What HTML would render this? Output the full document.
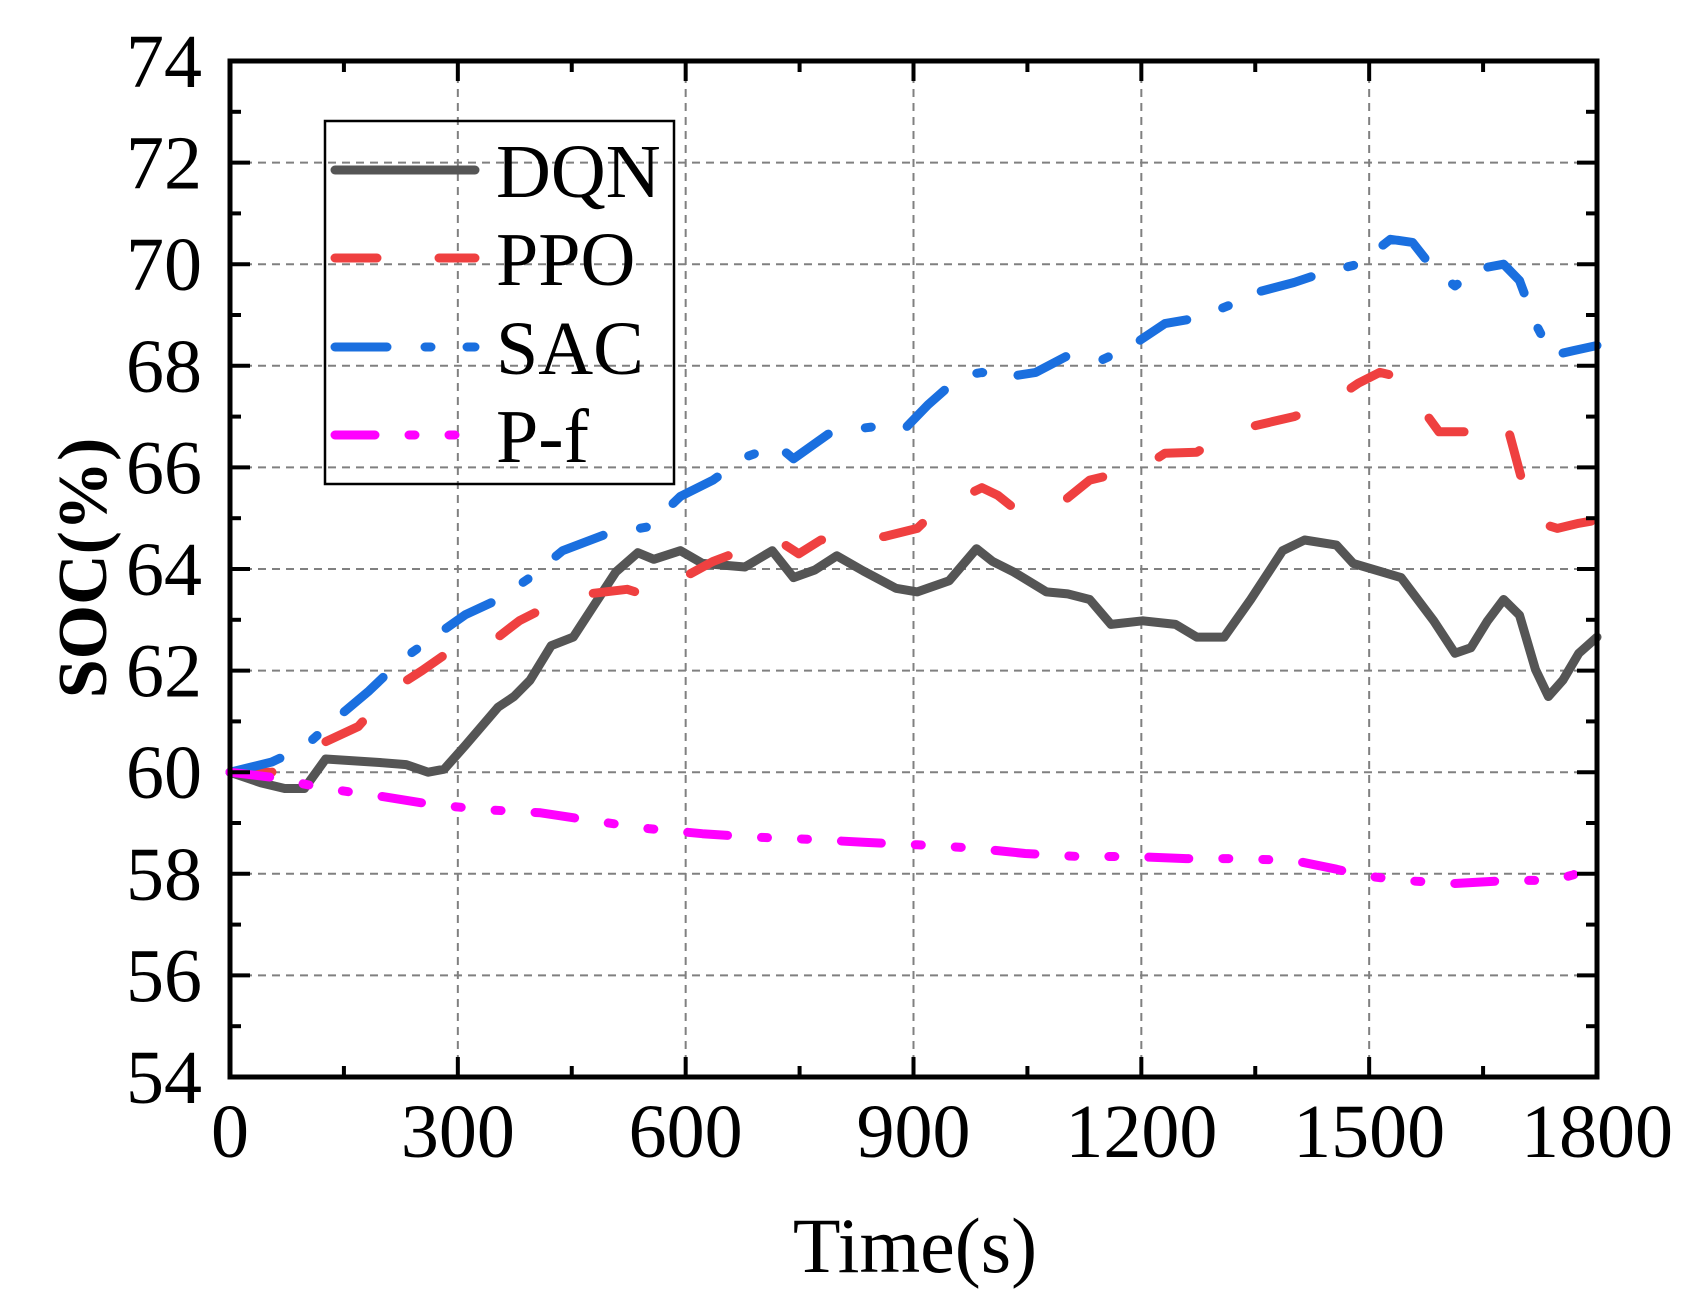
<!DOCTYPE html>
<html><head><meta charset="utf-8"><style>
html,body{margin:0;padding:0;background:#fff;}
svg{display:block;font-family:"Liberation Serif",serif;}
</style></head><body>
<svg id="chart" width="1691" height="1303" viewBox="0 0 1691 1303" xmlns="http://www.w3.org/2000/svg">
<g id="grid"></g>
<g id="series"></g>
<g id="axes"></g>
<g id="legend"></g>
</svg>
<script>
const xTicks = [0,300,600,900,1200,1500,1800];
const yTicks = [54,56,58,60,62,64,66,68,70,72,74];
const dqnT = [0,41,72,98,126,197,232,261,282,310,353,374,395,423,452,480,508,537,558,593,622,678,714,742,770,799,834,877,905,947,983,1004,1032,1075,1103,1132,1160,1202,1245,1273,1309,1344,1386,1415,1457,1479,1542,1585,1613,1634,1656,1677,1698,1719,1736,1755,1776,1800];
const dqnV = [60,59.79,59.68,59.68,60.26,60.19,60.15,60.0,60.06,60.53,61.28,61.49,61.81,62.49,62.66,63.3,63.94,64.32,64.19,64.36,64.11,64.04,64.36,63.83,63.98,64.26,63.96,63.62,63.55,63.77,64.4,64.15,63.94,63.55,63.51,63.4,62.91,62.98,62.91,62.66,62.66,63.4,64.36,64.57,64.47,64.11,63.83,62.98,62.34,62.45,62.98,63.4,63.09,62.02,61.49,61.81,62.34,62.66];
const ppoT = [0,55,126,169,211,253,296,324,353,381,423,466,523,551,565,593,636,693,721,749,778,820,862,905,933,962,990,1011,1032,1061,1082,1103,1132,1160,1188,1231,1273,1316,1358,1401,1443,1486,1514,1542,1571,1592,1627,1641,1663,1684,1705,1726,1748,1776,1800];
const ppoV = [60,60,60.6,60.9,61.6,62.0,62.45,62.55,62.66,62.98,63.3,63.5,63.6,63.47,63.55,63.8,64.15,64.47,64.57,64.3,64.57,64.6,64.64,64.8,65.2,65.4,65.6,65.45,65.2,65.3,65.2,65.4,65.75,65.85,65.85,66.28,66.3,66.7,66.85,67.0,67.23,67.66,67.87,67.77,67.13,66.7,66.7,67.0,67.0,66.7,65.53,64.9,64.8,64.9,64.96];
const sacT = [0,55,98,140,183,225,268,310,353,395,438,494,551,593,636,678,721,742,792,848,891,919,962,990,1018,1061,1103,1146,1188,1231,1273,1316,1358,1401,1443,1486,1528,1557,1585,1613,1641,1677,1698,1719,1741,1769,1800];
const sacV = [60,60.2,60.5,61.06,61.6,62.2,62.66,63.1,63.4,63.83,64.36,64.68,64.83,65.43,65.75,66.2,66.43,66.17,66.7,66.8,66.8,67.23,67.8,67.87,67.77,67.87,68.2,68.1,68.4,68.83,68.94,69.19,69.47,69.64,69.85,70.0,70.49,70.43,69.9,69.57,69.9,70.0,69.68,68.83,68.2,68.3,68.4];
const pfT = [0,55,126,197,268,339,409,480,551,622,693,764,834,905,976,1047,1117,1188,1259,1330,1401,1457,1486,1542,1613,1684,1741,1769,1800];
const pfV = [60,59.9,59.68,59.53,59.36,59.26,59.2,59.04,58.89,58.79,58.72,58.68,58.62,58.57,58.51,58.4,58.34,58.34,58.3,58.3,58.26,58.09,57.98,57.87,57.81,57.87,57.87,57.98,58.3];

const L=230,R=1597,T=61,B=1077;
const xMin=0,xMax=1800,yMin=54,yMax=74;
const sx=v=>L+(v-xMin)/(xMax-xMin)*(R-L);
const sy=v=>B-(v-yMin)/(yMax-yMin)*(B-T);
const NS="http://www.w3.org/2000/svg";
function mk(tag,attrs,parent){const e=document.createElementNS(NS,tag);for(const k in attrs)e.setAttribute(k,attrs[k]);parent.appendChild(e);return e;}
const grid=document.getElementById('grid'),series=document.getElementById('series'),axes=document.getElementById('axes'),legend=document.getElementById('legend');

xTicks.forEach((t,i)=>{
  if(i>0&&i<xTicks.length-1){const g=mk('line',{x1:sx(t),x2:sx(t),y1:T,y2:B,stroke:'#808080','stroke-width':2,'stroke-dasharray':'8 6'},grid);
  
  }
  const lb=mk('text',{x:sx(t),y:1157,'font-size':76,'text-anchor':'middle',fill:'#000'},axes);lb.textContent=t;
  
  
  [B,T].forEach(y0=>{mk('line',{x1:sx(t),x2:sx(t),y1:y0,y2:y0===B?B-20:T+20,stroke:'#000','stroke-width':4},axes);});
  if(i<xTicks.length-1){const m=t+150;[B,T].forEach(y0=>{mk('line',{x1:sx(m),x2:sx(m),y1:y0,y2:y0===B?B-11:T+11,stroke:'#000','stroke-width':4},axes);});}
});
yTicks.forEach((v,i)=>{
  if(i>0&&i<yTicks.length-1){const g=mk('line',{x1:L,x2:R,y1:sy(v),y2:sy(v),stroke:'#808080','stroke-width':2,'stroke-dasharray':'8 6'},grid);
  
  }
  const lb=mk('text',{x:202,y:sy(v)+26,'font-size':76,'text-anchor':'end',fill:'#000'},axes);lb.textContent=v;
  
  
  [L,R].forEach(x0=>{mk('line',{x1:x0,x2:x0===L?L+20:R-20,y1:sy(v),y2:sy(v),stroke:'#000','stroke-width':4},axes);});
  if(i<yTicks.length-1){const m=v+1;[L,R].forEach(x0=>{mk('line',{x1:x0,x2:x0===L?L+11:R-11,y1:sy(m),y2:sy(m),stroke:'#000','stroke-width':4},axes);});}
});
const frame=mk('rect',{x:L,y:T,width:R-L,height:B-T,fill:'none',stroke:'#000','stroke-width':5},axes);


const xt=mk('text',{x:915,y:1272,'font-size':78,'text-anchor':'middle',fill:'#000'},axes);xt.textContent='Time(s)';


const yt=mk('text',{x:0,y:0,'font-size':70,'font-weight':'bold','text-anchor':'middle',fill:'#000',transform:'translate(106,568) rotate(-90)'},axes);yt.textContent='SOC(%)';



const defs=[
 {name:'DQN',t:dqnT,v:dqnV,c:'#555555',d:'none'},
 {name:'PPO',t:ppoT,v:ppoV,c:'#ef4040',d:'42 62'},
 {name:'SAC',t:sacT,v:sacV,c:'#1a6fdf',d:'52 38 6 36'},
 {name:'P-f',t:pfT,v:pfV,c:'#ff00ff',d:'40 34 6 34 6 34'}
];
defs.forEach((s,i)=>{
  const pts=s.t.map((t,j)=>sx(t).toFixed(1)+','+sy(s.v[j]).toFixed(1)).join(' ');
  const p=mk('polyline',{points:pts,fill:'none',stroke:s.c,'stroke-width':9,'stroke-linecap':'round','stroke-linejoin':'round'},series);
  if(s.d!=='none')p.setAttribute('stroke-dasharray',s.d);
  
  
  const ly=[170,258,347,435][i];
  const g=mk('g',{},legend);
  
  
  const ln=mk('line',{x1:335,x2:475,y1:ly,y2:ly,stroke:s.c,'stroke-width':9,'stroke-linecap':'round'},g);
  if(s.d!=='none')ln.setAttribute('stroke-dasharray',s.d);
  const tx=mk('text',{x:496,y:ly+27,'font-size':76,fill:'#000'},g);tx.textContent=s.name;
});
const lb=mk('rect',{x:325,y:121,width:349,height:363,fill:'none',stroke:'#000','stroke-width':2.5},legend);


</script>
</body></html>
